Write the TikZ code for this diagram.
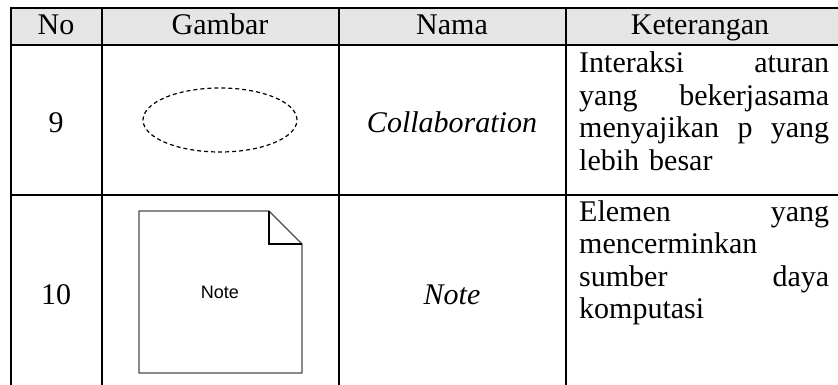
\documentclass[tikz,border=0pt]{standalone}
\usepackage{fontspec}
\setmainfont{Liberation Serif}
\newfontfamily\notefont{Liberation Sans}
\usetikzlibrary{shapes.geometric}
\definecolor{headgray}{gray}{0.9}
\definecolor{notegray}{gray}{0.3}
% one justified line of the description column
\newcommand{\ketline}[1]{{\spaceskip=.25em plus 1fil\makebox[250pt][s]{#1}}}

\begin{document}
\begin{tikzpicture}[x=1pt,y=-1pt,
	rule/.style={line width=2.4pt,line cap=rect},
	cell/.style={font=\fontsize{30}{32.5}\selectfont,inner sep=0pt,anchor=base},
	desc/.style={font=\fontsize{30}{32.5}\selectfont,inner sep=0pt,text width=250pt,align=left,anchor=base west}]
\useasboundingbox (0,0) rectangle (838,385);
	% header band and grid
	\fill[headgray] (11,8) rectangle (838,45);
	\draw[rule] (11,8) -- (838,8);
	\draw[rule] (11,45) -- (838,45);
	\draw[rule] (11,195) -- (838,195);
	\foreach \x in {11,102,339,566}
		\draw[rule] (\x,8) -- (\x,390);
	% header
	\node[cell] (hNo) at (56,35) {No};
	\node[cell] (hGambar) at (220,35) {Gambar};
	\node[cell] (hNama) at (452,35) {Nama};
	\node[cell] (hKet) at (700,35) {Keterangan};
	% row 9
	\node[cell] (no9) at (56,133) {9};
	\node[draw,dashed,dash pattern=on 4pt off 3pt,line width=1.2pt,ellipse,
		minimum width=154pt,minimum height=64pt,inner sep=0pt] (collab) at (220,120) {};
	\node[cell] (nama9) at (452,133) {\textit{Collaboration}};
	\node[desc] (ket9) at (579,73) {%
		\ketline{Interaksi aturan}\\
		\ketline{yang bekerjasama}\\
		\ketline{menyajikan p yang}\\
		lebih besar};
	% row 10
	\node[cell] (no10) at (56,304) {10};
	\draw[notegray,line width=1.2pt] (139,211) -- (269,211) -- (302,244) -- (302,373) -- (139,373) -- cycle;
	\draw[line width=1.2pt] (269,211) -- (269,244) -- (302,244);
	\node[font=\notefont\fontsize{18}{20}\selectfont,inner sep=0pt] (noteLbl) at (220,292) {Note};
	\node[cell] (nama10) at (452,304) {\textit{Note}};
	\node[desc] (ket10) at (579,221) {%
		\ketline{Elemen yang}\\
		mencerminkan\\
		\ketline{sumber daya}\\
		komputasi};
\end{tikzpicture}
\end{document}
